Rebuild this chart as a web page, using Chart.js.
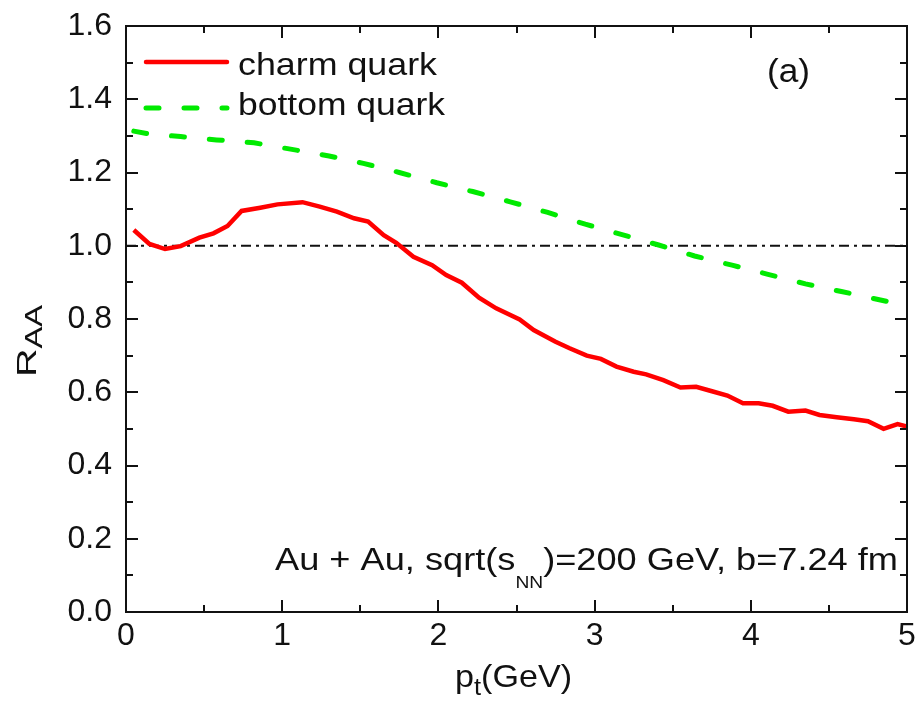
<!DOCTYPE html>
<html>
<head>
<meta charset="utf-8">
<script src="https://cdn.jsdelivr.net/npm/chart.js@4.4.0/dist/chart.umd.min.js"></script>
<style>
    html, body { margin: 0; padding: 0; background: #fff; }
    #wrap { width: 916px; height: 711px; }
</style>
</head>
<body>
<div id="wrap"><canvas id="chart"></canvas></div>
<script>
// charm quark R_AA vs p_t (GeV)
const charmPt = [0.05, 0.15, 0.25, 0.35, 0.47, 0.56, 0.65, 0.74, 0.86, 0.97, 1.13, 1.24, 1.35, 1.46, 1.55,
    1.65, 1.73, 1.84, 1.96, 2.05, 2.15, 2.26, 2.37, 2.52, 2.61, 2.75, 2.84, 2.95, 3.04, 3.14, 3.25, 3.33,
    3.44, 3.55, 3.65, 3.74, 3.85, 3.95, 4.05, 4.14, 4.24, 4.35, 4.44, 4.55, 4.66, 4.75, 4.85, 4.94, 5.0]
const charmRaa = [1.043, 1.005, 0.991, 0.999, 1.022, 1.034, 1.054, 1.095, 1.104, 1.113, 1.119, 1.107, 1.093,
    1.075, 1.066, 1.029, 1.008, 0.970, 0.947, 0.920, 0.899, 0.858, 0.829, 0.799, 0.770, 0.738, 0.720, 0.700,
    0.691, 0.670, 0.656, 0.649, 0.633, 0.613, 0.615, 0.604, 0.591, 0.570, 0.570, 0.563, 0.547, 0.550, 0.538,
    0.532, 0.526, 0.521, 0.500, 0.513, 0.506]

// bottom quark R_AA vs p_t (GeV)
const bottomPt = [0.05, 0.15, 0.35, 0.58, 0.82, 1.09, 1.30, 1.52, 1.75, 1.99, 2.22, 2.46, 2.70, 2.94, 3.17,
    3.41, 3.64, 3.88, 4.11, 4.35, 4.58, 4.83, 4.88]
const bottomRaa = [1.313, 1.305, 1.298, 1.289, 1.281, 1.261, 1.245, 1.225, 1.200, 1.172, 1.148, 1.120, 1.091,
    1.059, 1.031, 1.002, 0.972, 0.947, 0.922, 0.896, 0.875, 0.852, 0.847]

// R_AA = 1 reference line
const refPt = [0, 5]
const refRaa = [1, 1]

const seriesLabels = ["charm quark", "bottom quark"]
const xTickValues = [0, 1, 2, 3, 4, 5]
const yTickValues = [0, 0.2, 0.4, 0.6, 0.8, 1.0, 1.2, 1.4, 1.6]

const FONT = '"Liberation Sans", Arial, Helvetica, sans-serif'
const INK = "#111"

const toPoints = (xs, ys) => xs.map((x, i) => ({x: x, y: ys[i]}))

/**
 * Draw a run of text pieces (with sub/superscripts), squeezed or stretched to a width
 */
function drawParts(ctx, parts, x, baseline, targetWidth) {
    let total = 0
    parts.forEach((p) => {
        ctx.font = `${p.size}px ${FONT}`
        p.w = ctx.measureText(p.text).width
        total += p.w
    })
    const sx = targetWidth ? targetWidth / total : 1
    ctx.save()
    ctx.translate(x, baseline)
    ctx.scale(sx, 1)
    ctx.textBaseline = "alphabetic"
    ctx.textAlign = "left"
    let cx = 0
    parts.forEach((p) => {
        ctx.font = `${p.size}px ${FONT}`
        ctx.fillText(p.text, cx, p.dy || 0)
        cx += p.w
    })
    ctx.restore()
}

const framePlugin = {
    id: "frame",
    afterDatasetsDraw(chart) {
        const {ctx, chartArea: a, scales: {x, y}} = chart
        ctx.save()
        ctx.strokeStyle = INK
        ctx.lineWidth = 2
        ctx.strokeRect(a.left, a.top, a.right - a.left, a.bottom - a.top)

        // inward ticks on all four sides, minor ones half way between majors
        ctx.beginPath()
        const xs = x.ticks.map((t) => t.value)
        xs.forEach((v, i) => {
            const marks = [[v, 12]]
            if (i < xs.length - 1) marks.push([(v + xs[i + 1]) / 2, 7])
            marks.forEach(([val, len]) => {
                const px = Math.round(x.getPixelForValue(val))
                ctx.moveTo(px, a.bottom); ctx.lineTo(px, a.bottom - len)
                ctx.moveTo(px, a.top); ctx.lineTo(px, a.top + len)
            })
        })
        const ys = y.ticks.map((t) => t.value)
        ys.forEach((v, i) => {
            const marks = [[v, 12]]
            if (i < ys.length - 1) marks.push([(v + ys[i + 1]) / 2, 7])
            marks.forEach(([val, len]) => {
                const py = Math.round(y.getPixelForValue(val))
                ctx.moveTo(a.left, py); ctx.lineTo(a.left + len, py)
                ctx.moveTo(a.right, py); ctx.lineTo(a.right - len, py)
            })
        })
        ctx.stroke()

        // legend
        ctx.lineCap = "round"
        const legendRows = [{ds: chart.data.datasets[0], ly: 62, ty: 75, tw: 199},
                            {ds: chart.data.datasets[1], ly: 108, ty: 115, tw: 207}]
        legendRows.forEach((row) => {
            ctx.strokeStyle = row.ds.borderColor
            ctx.lineWidth = row.ds.borderWidth
            ctx.setLineDash(row.ds.borderDash || [])
            ctx.beginPath()
            ctx.moveTo(146, row.ly)
            ctx.lineTo(227, row.ly)
            ctx.stroke()
            ctx.setLineDash([])
            ctx.fillStyle = INK
            drawParts(ctx, [{text: row.ds.label, size: 32}], 238, row.ty, row.tw)
        })

        ctx.fillStyle = INK
        drawParts(ctx, [{text: "(a)", size: 34}], 767, 82, 43)
        drawParts(ctx, [
            {text: "Au + Au, sqrt(s", size: 32},
            {text: "NN", size: 17, dy: 18},
            {text: ")=200 GeV, b=7.24 fm", size: 32},
        ], 275, 570, 623)

        // axis titles
        drawParts(ctx, [
            {text: "p", size: 32},
            {text: "t", size: 24, dy: 8},
            {text: "(GeV)", size: 32},
        ], 455, 687, 117)
        ctx.save()
        ctx.translate(36, 377)
        ctx.rotate(-Math.PI / 2)
        drawParts(ctx, [
            {text: "R", size: 28},
            {text: "AA", size: 23, dy: 6},
        ], 0, 0, 72)
        ctx.restore()
        ctx.restore()
    }
}

new Chart(document.getElementById("chart"), {
    type: "line",
    data: {
        datasets: [{
            label: seriesLabels[0],
            data: toPoints(charmPt, charmRaa),
            borderColor: "#ff0000",
            borderWidth: 4.5,
            pointRadius: 0,
            tension: 0,
            fill: false,
            order: 1,
        }, {
            label: seriesLabels[1],
            data: toPoints(bottomPt, bottomRaa),
            borderColor: "#00ea00",
            borderWidth: 5,
            borderDash: [13, 25],
            borderCapStyle: "round",
            pointRadius: 0,
            tension: 0,
            fill: false,
            order: 2,
        }, {
            label: "reference",
            data: toPoints(refPt, refRaa),
            borderColor: INK,
            borderWidth: 2,
            borderDash: [10, 5, 3, 5],
            pointRadius: 0,
            fill: false,
            order: 3,
        }]
    },
    options: {
        responsive: true,
        maintainAspectRatio: false,
        animation: false,
        layout: {padding: {top: 26, right: 9, bottom: 0, left: 0}},
        plugins: {legend: {display: false}, tooltip: {enabled: false}},
        scales: {
            x: {
                type: "linear",
                min: 0,
                max: 5,
                afterBuildTicks: (s) => { s.ticks = xTickValues.map((v) => ({value: v})) },
                afterFit: (s) => { s.height = 99; s.paddingLeft = 0; s.paddingRight = 0 },
                grid: {display: false, drawTicks: false},
                border: {display: false},
                ticks: {
                    padding: 5,
                    color: INK,
                    font: {family: FONT, size: 32},
                    callback: (v) => String(v),
                },
            },
            y: {
                type: "linear",
                min: 0,
                max: 1.6,
                afterBuildTicks: (s) => { s.ticks = yTickValues.map((v) => ({value: v})) },
                afterFit: (s) => { s.width = 126; s.paddingTop = 0; s.paddingBottom = 0 },
                grid: {display: false, drawTicks: false},
                border: {display: false},
                ticks: {
                    padding: 14,
                    color: INK,
                    font: {family: FONT, size: 32},
                    callback: (v) => Number(v).toFixed(1),
                },
            },
        },
    },
    plugins: [framePlugin],
})
</script>
</body>
</html>
